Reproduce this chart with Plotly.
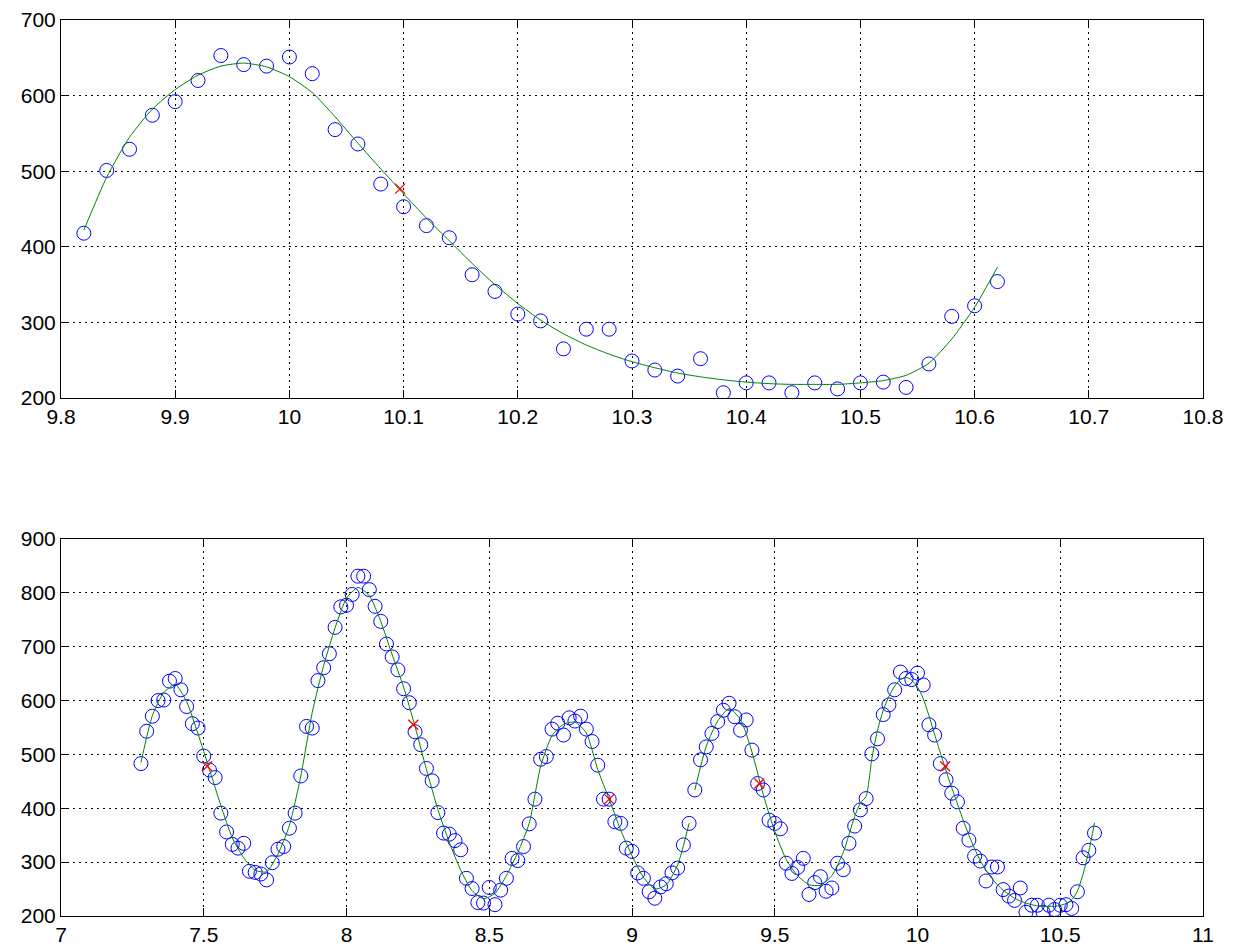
import plotly.graph_objects as go

# ---------------- data ----------------
top_x = [9.82, 9.84, 9.86, 9.88, 9.90, 9.92, 9.94, 9.96, 9.98, 10.00,
         10.02, 10.04, 10.06, 10.08, 10.10, 10.12, 10.14, 10.16, 10.18, 10.20,
         10.22, 10.24, 10.26, 10.28, 10.30, 10.32, 10.34, 10.36, 10.38, 10.40,
         10.42, 10.44, 10.46, 10.48, 10.50, 10.52, 10.54, 10.56, 10.58, 10.60,
         10.62]
top_y = [418, 501, 529, 574, 592, 620, 653, 641, 639, 651,
         629, 555, 536, 483, 453, 428, 412, 363, 341, 311,
         302, 265, 291, 291, 249, 237, 229, 252, 207, 220,
         220, 207, 220, 212, 220, 221, 214, 245, 308, 322,
         354]
top_fit = [422, 492, 545, 582, 608, 627, 639, 643, 638, 625,
           604, 572, 537, 503, 470, 438, 408, 378, 350, 325,
           303, 285, 270, 258, 248, 240, 233, 228, 224, 221,
           219, 218, 218, 218, 220, 223, 230, 246, 278, 320,
           373]
top_mark_x = [10.097]
top_mark_y = [477]

bot_x = [7.28, 7.30, 7.32, 7.34, 7.36, 7.38, 7.40, 7.42, 7.44, 7.46,
         7.48, 7.50, 7.52, 7.54, 7.56, 7.58, 7.60, 7.62, 7.64, 7.66,
         7.68, 7.70, 7.72, 7.74, 7.76, 7.78, 7.80, 7.82, 7.84, 7.86,
         7.88, 7.90, 7.92, 7.94, 7.96, 7.98, 8.00, 8.02, 8.04, 8.06,
         8.08, 8.10, 8.12, 8.14, 8.16, 8.18, 8.20, 8.22, 8.24, 8.26,
         8.28, 8.30, 8.32, 8.34, 8.36, 8.38, 8.40, 8.42, 8.44, 8.46,
         8.48, 8.50, 8.52, 8.54, 8.56, 8.58, 8.60, 8.62, 8.64, 8.66,
         8.68, 8.70, 8.72, 8.74, 8.76, 8.78, 8.80, 8.82, 8.84, 8.86,
         8.88, 8.90, 8.92, 8.94, 8.96, 8.98, 9.00, 9.02, 9.04, 9.06,
         9.08, 9.10, 9.12, 9.14, 9.16, 9.18, 9.20, 9.22, 9.24, 9.26,
         9.28, 9.30, 9.32, 9.34, 9.36, 9.38, 9.40, 9.42, 9.44, 9.46,
         9.48, 9.50, 9.52, 9.54, 9.56, 9.58, 9.60, 9.62, 9.64, 9.66,
         9.68, 9.70, 9.72, 9.74, 9.76, 9.78, 9.80] + top_x
bot_y = [483, 543, 571, 600, 601, 636, 641, 620, 589, 557,
         549, 497, 471, 457, 391, 356, 333, 326, 335, 283,
         281, 278, 267, 299, 324, 329, 363, 391, 460, 552,
         549, 637, 661, 687, 736, 774, 777, 797, 831, 831,
         806, 775, 747, 705, 681, 657, 622, 596, 542, 518,
         474, 451, 392, 354, 352, 340, 323, 270, 251, 225,
         224, 253, 221, 248, 270, 307, 303, 329, 371, 417,
         491, 496, 547, 558, 536, 568, 562, 571, 547, 524,
         480, 417, 417, 375, 372, 326, 320, 280, 270, 245,
         233, 254, 260, 280, 289, 332, 372, 434, 490, 514,
         539, 561, 582, 595, 570, 545, 564, 508, 446, 434,
         378, 372, 362, 298, 279, 290, 307, 240, 262, 273,
         246, 252, 298, 286, 335, 367, 397] + top_y

bot_fit_x = [7.28, 7.32, 7.36, 7.40, 7.44, 7.48, 7.52, 7.56, 7.60, 7.64,
             7.68, 7.72, 7.76, 7.80, 7.84, 7.88, 7.92, 7.96, 8.00, 8.04,
             8.08, 8.12, 8.16, 8.20, 8.24, 8.28, 8.32, 8.36, 8.40, 8.44,
             8.48, 8.52, 8.56, 8.60, 8.64, 8.68, 8.72, 8.76, 8.80, 8.84,
             8.88, 8.92, 8.96, 9.00, 9.04, 9.08, 9.12, 9.16, 9.20, None,
             9.22, 9.26, 9.30, 9.34, 9.38, 9.42, 9.46, 9.50, 9.54, 9.58,
             9.62, 9.66, 9.70, 9.74, 9.78, 9.80] + top_x
bot_fit_y = [485, 572, 615, 630, 598, 538, 472, 405, 345, 308,
             285, 282, 315, 368, 460, 578, 665, 735, 790, 810,
             795, 747, 685, 625, 552, 472, 398, 337, 285, 247,
             232, 242, 275, 318, 372, 478, 535, 556, 560, 540,
             472, 417, 360, 312, 272, 250, 258, 295, 372, None,
             434, 515, 562, 585, 565, 505, 425, 357, 305, 275,
             258, 257, 275, 318, 385, 410] + top_fit
bot_mark_x = [7.512, 8.234, 8.92, 9.446, 10.097]
bot_mark_y = [478, 555, 417, 446, 478]

# ---------------- figure ----------------
W, H = 1241, 949
FONT = dict(family="Liberation Sans, Arial, sans-serif", size=21, color="black")

fig = go.Figure()

def add_panel(xd, yd, fx, fy, mx, my, xa, ya):
    fig.add_trace(go.Scatter(x=xd, y=yd, mode="markers", xaxis=xa, yaxis=ya,
                             marker=dict(symbol="circle-open", size=14, color="#0000ff",
                                         line=dict(width=1, color="#0000ff")),
                             showlegend=False))
    fig.add_trace(go.Scatter(x=fx, y=fy, mode="lines", xaxis=xa, yaxis=ya,
                             line=dict(color="#008000", width=1, shape="spline", smoothing=0.6),
                             connectgaps=False, showlegend=False))
    fig.add_trace(go.Scatter(x=mx, y=my, mode="markers", xaxis=xa, yaxis=ya,
                             marker=dict(symbol="x-thin-open", size=10, color="red",
                                         line=dict(width=1.3, color="red")),
                             showlegend=False))

add_panel(top_x, top_y, top_x, top_fit, top_mark_x, top_mark_y, "x", "y")
add_panel(bot_x, bot_y, bot_fit_x, bot_fit_y, bot_mark_x, bot_mark_y, "x2", "y2")

xdom = [61 / W, 1203 / W]
axis_common = dict(showline=True, linecolor="black", linewidth=1, mirror="ticks",
                   ticks="inside", ticklen=8, tickcolor="black", tickwidth=1,
                   showgrid=True, gridcolor="black", gridwidth=1, griddash="2px,4px",
                   zeroline=False, tickfont=FONT, automargin=False)

fig.update_layout(
    width=W, height=H, margin=dict(l=0, r=0, t=0, b=0, pad=0), autosize=False,
    paper_bgcolor="white", plot_bgcolor="white",
    xaxis=dict(domain=xdom, anchor="y", range=[9.8, 10.8], tickvals=[9.8, 9.9, 10, 10.1, 10.2, 10.3, 10.4, 10.5, 10.6, 10.7, 10.8],
               ticktext=["9.8", "9.9", "10", "10.1", "10.2", "10.3", "10.4", "10.5", "10.6", "10.7", "10.8"], **axis_common),
    yaxis=dict(domain=[1 - 398 / H, 1 - 20 / H], anchor="x", range=[200, 700],
               tickvals=[200, 300, 400, 500, 600, 700], **axis_common),
    xaxis2=dict(domain=xdom, anchor="y2", range=[7, 11], tickvals=[7, 7.5, 8, 8.5, 9, 9.5, 10, 10.5, 11],
                ticktext=["7", "7.5", "8", "8.5", "9", "9.5", "10", "10.5", "11"], **axis_common),
    yaxis2=dict(domain=[1 - 916 / H, 1 - 539 / H], anchor="x2", range=[200, 900],
                tickvals=[200, 300, 400, 500, 600, 700, 800, 900], **axis_common),
)

fig.write_html("out.html", config={"displayModeBar": False},
               post_script="document.body.style.margin='0px';document.body.style.overflow='hidden';")
